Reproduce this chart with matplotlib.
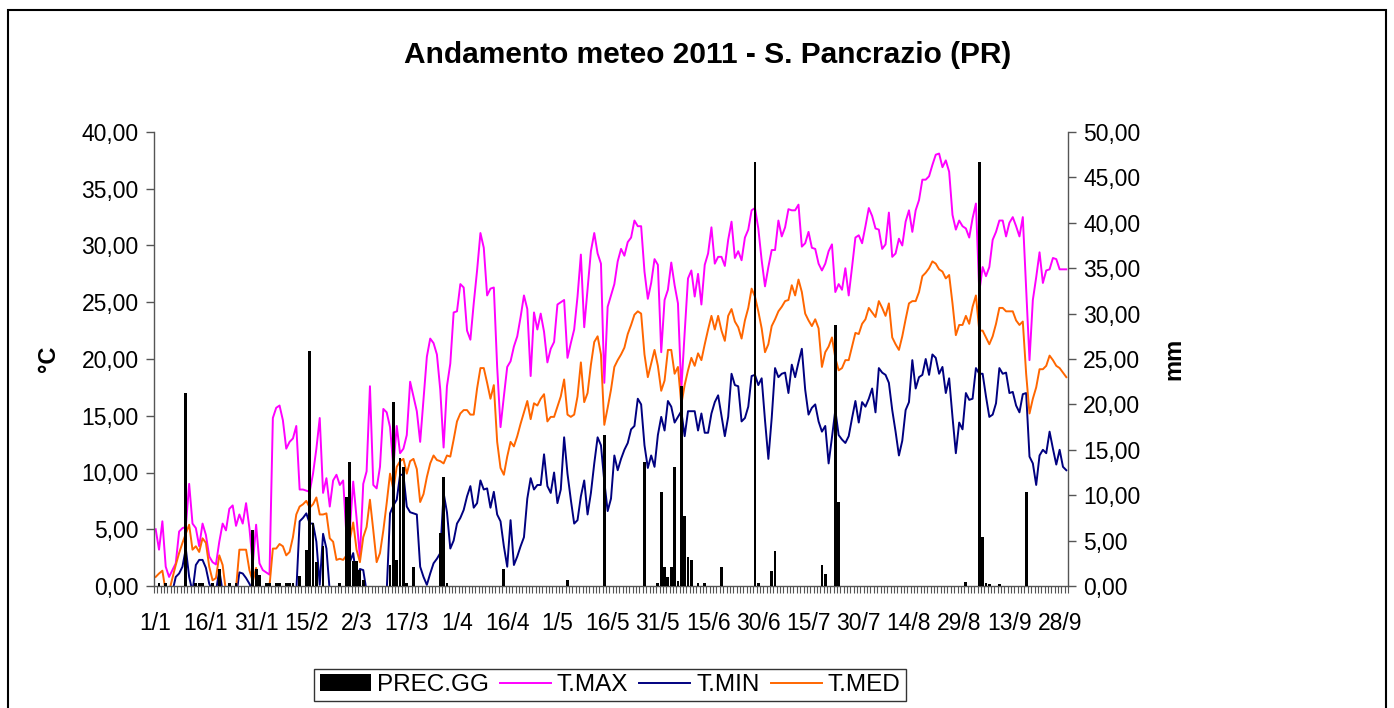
import numpy as np
import matplotlib
matplotlib.use("Agg")
import matplotlib.pyplot as plt
from matplotlib.patches import Rectangle
from matplotlib.ticker import FuncFormatter

plt.rcParams["font.family"] = ["Liberation Sans", "DejaVu Sans"]

# daily values 1/1 .. 30/9 2011 (values below 0 are clipped by the axis)
t_max = [5.0, 3.2, 5.7, 1.7, 0.8, 1.4, 2.0, 4.8, 5.1, 5.2,
         9.0, 5.5, 5.1, 3.5, 5.5, 4.5, 2.6, 2.1, 1.9, 3.9,
         5.5, 4.9, 6.8, 7.1, 5.3, 6.3, 5.5, 7.3, 5.1, 1.9,
         5.4, 2.0, 1.4, 1.2, 1.0, 14.8, 15.7, 15.9, 14.6, 12.1,
         12.7, 13.0, 14.1, 8.5, 8.5, 8.4, 8.3, 9.9, 12.1, 14.8,
         8.2, 9.5, 7.0, 9.3, 9.8, 8.9, 9.3, 4.3, 5.0, 9.2,
         6.0, 2.5, 9.0, 10.1, 17.6, 8.9, 8.6, 10.5, 15.6, 15.3,
         14.0, 10.5, 14.1, 11.7, 12.1, 13.3, 18.0, 16.7, 15.4, 12.7,
         16.4, 20.2, 21.8, 21.4, 20.4, 17.3, 12.2, 17.6, 19.6, 24.1,
         24.2, 26.6, 26.3, 22.5, 21.7, 24.9, 27.8, 31.1, 29.8, 25.6,
         26.2, 26.3, 19.3, 14.0, 16.7, 19.3, 19.8, 21.1, 22.0, 23.7,
         25.6, 24.4, 18.5, 24.1, 22.6, 24.0, 22.4, 19.7, 20.9, 21.5,
         24.8, 25.0, 25.2, 20.1, 21.4, 22.6, 25.5, 29.2, 22.8, 26.2,
         29.5, 31.1, 29.3, 28.4, 17.9, 24.6, 25.6, 26.6, 28.6, 29.7,
         29.1, 30.3, 30.7, 32.2, 31.7, 31.7, 27.7, 25.3, 26.7, 28.8,
         28.3, 20.6, 25.2, 26.1, 28.5, 26.5, 24.9, 17.3, 22.3, 27.1,
         27.8, 25.5, 27.5, 24.8, 28.3, 29.3, 31.6, 28.4, 29.0, 29.0,
         28.2, 30.5, 32.1, 28.9, 29.5, 28.7, 30.7, 31.4, 33.1, 33.3,
         31.5, 28.7, 26.4, 28.1, 29.6, 29.6, 32.2, 30.8, 31.6, 33.2,
         33.1, 33.1, 33.6, 29.9, 30.2, 31.2, 29.8, 29.7, 28.4, 27.8,
         28.4, 29.5, 30.1, 25.9, 26.6, 26.1, 28.0, 25.6, 28.1, 30.7,
         30.9, 30.2, 31.7, 33.3, 32.6, 31.5, 31.4, 29.7, 30.1, 32.9,
         29.0, 29.3, 30.6, 30.0, 32.1, 33.1, 31.2, 33.1, 34.0, 35.8,
         35.8, 36.1, 37.1, 38.0, 38.1, 36.9, 37.5, 36.5, 32.7, 31.4,
         32.2, 31.7, 31.5, 30.7, 32.4, 33.7, 25.9, 28.1, 27.3, 28.1,
         30.5, 31.2, 32.2, 32.2, 30.8, 32.0, 32.5, 31.7, 30.8, 32.5,
         26.2, 19.9, 25.2, 27.2, 29.4, 26.7, 27.8, 27.9, 28.9, 28.8,
         27.9, 27.9, 27.9]

t_med = [0.8, 1.1, 1.35, -0.5, -0.5, 0.7, 1.85, 2.9, 3.8, 4.6,
         5.4, 3.2, 3.5, 3.0, 4.2, 3.8, 1.7, 0.5, 0.7, 2.7,
         1.85, -0.5, -1.0, -0.5, -0.2, 3.2, 3.2, 3.2, 1.4, 0.4,
         1.6, -0.5, -0.5, -0.3, 0.0, 3.3, 3.3, 3.7, 3.5, 2.7,
         3.0, 4.3, 6.3, 7.0, 7.2, 7.5, 6.9, 7.2, 7.8, 6.3,
         6.3, 6.4, 4.2, 3.9, 2.3, 2.4, 2.3, 2.7, 4.1, 5.6,
         3.2, 2.1, 4.3, 5.2, 7.6, 4.9, 2.1, 2.9, 4.9, 7.3,
         9.9, 8.5, 10.5, 11.0, 11.2, 9.9, 11.0, 11.2, 10.3, 7.4,
         8.1, 9.6, 10.8, 11.5, 11.1, 11.0, 10.8, 11.5, 11.4, 12.9,
         14.5, 15.2, 15.5, 15.5, 15.1, 15.1, 17.4, 19.2, 19.2, 17.9,
         16.5, 17.7, 12.7, 10.4, 9.8, 11.4, 12.7, 12.3, 13.2, 14.3,
         15.3, 16.3, 14.7, 16.1, 15.9, 16.5, 16.9, 14.5, 14.9, 14.9,
         15.8, 16.7, 18.2, 15.1, 14.9, 15.1, 16.7, 19.7, 16.2, 17.0,
         19.5, 21.5, 22.0, 20.4, 14.2, 15.7, 17.3, 19.3, 19.9, 20.4,
         21.0, 22.2, 23.0, 23.9, 24.2, 24.0, 20.4, 18.4, 19.6, 20.8,
         19.4, 17.2, 18.1, 20.8, 20.8, 18.7, 19.3, 16.0, 17.7, 19.0,
         20.1, 19.4, 20.5, 19.9, 21.3, 22.6, 23.8, 22.6, 23.8, 22.5,
         21.6, 23.8, 24.4, 23.3, 22.8, 21.8, 23.4, 24.5, 26.2, 25.5,
         24.2, 22.7, 20.6, 21.3, 22.9, 23.5, 24.2, 24.6, 25.1, 25.2,
         26.5, 25.6, 27.0, 25.9, 24.0, 23.4, 22.9, 23.5, 22.7, 19.3,
         20.6, 21.1, 21.9, 20.1, 19.0, 19.2, 19.9, 19.9, 21.1, 22.3,
         22.2, 23.1, 23.5, 24.5, 24.1, 23.7, 25.1, 24.5, 23.8, 24.9,
         21.9, 21.3, 20.8, 22.0, 23.5, 24.9, 25.1, 25.1, 25.9, 27.3,
         27.6, 28.0, 28.6, 28.4, 27.9, 27.7, 27.1, 27.4, 24.9, 22.1,
         23.0, 23.0, 23.8, 23.1, 24.6, 25.6, 22.5, 22.5, 21.9, 21.3,
         22.0, 23.1, 24.5, 24.5, 24.2, 24.2, 24.2, 23.4, 23.0, 23.3,
         18.7, 15.2, 16.5, 17.5, 19.1, 19.1, 19.4, 20.3, 19.9, 19.4,
         19.2, 18.8, 18.4]

t_min = [-2, -2, -2, -2, -2, -0.5, 0.8, 1.1, 1.7, 3.3,
         0.8, -0.5, 1.85, 2.3, 2.3, 1.6, 0.2, -0.5, -0.5, 1.4,
         -0.5, -2, -2, -2, -1, 1.2, 1.1, 0.7, 0.2, -0.5,
         -1, -2, -2, -2, -2, -2, -2, -2, -2, -2,
         -2, -2, -0.5, 5.7, 6.0, 6.4, 5.5, 5.5, 3.9, 0.1,
         4.6, 3.3, -0.5, -2, -2, -2, -2, -0.5, 2.1, 2.9,
         0.5, 1.5, 1.4, -0.5, -2, -2, -2, -2, -2, -0.5,
         6.4, 7.1, 7.6, 9.8, 9.8, 7.0, 6.5, 6.4, 6.3, 1.7,
         0.8, 0.1, 1.1, 2.0, 2.4, 2.9, 8.2, 6.5, 3.3, 4.0,
         5.5, 6.0, 6.7, 7.9, 8.8, 6.9, 7.3, 9.3, 8.5, 8.6,
         6.9, 8.3, 6.3, 5.7, 3.5, 1.7, 5.8, 1.85, 2.6, 3.5,
         4.3, 7.7, 9.5, 8.5, 8.9, 8.9, 11.6, 8.8, 8.2, 10.0,
         7.3, 8.5, 13.1, 9.9, 7.6, 5.5, 5.8, 7.9, 9.3, 6.3,
         8.2, 10.8, 13.1, 12.4, 9.2, 6.6, 7.7, 11.5, 10.2, 11.2,
         12.0, 12.6, 13.8, 14.1, 16.5, 16.0, 12.4, 10.4, 11.5, 10.5,
         13.3, 14.9, 13.7, 16.3, 15.8, 14.4, 14.9, 15.4, 13.2, 15.4,
         15.4, 15.4, 13.7, 15.2, 13.5, 13.5, 15.2, 16.2, 16.8, 15.0,
         13.2, 14.9, 18.7, 17.7, 17.6, 14.5, 14.8, 15.8, 18.5, 18.6,
         17.7, 18.3, 14.6, 11.2, 14.8, 19.2, 18.4, 18.7, 18.8, 17.0,
         19.5, 18.4, 19.7, 20.9, 17.3, 15.1, 15.7, 16.0, 14.5, 13.6,
         14.1, 10.8, 13.1, 15.5, 13.3, 12.9, 12.6, 13.2, 14.8, 16.3,
         14.4, 16.2, 15.8, 16.5, 17.4, 15.3, 19.2, 18.8, 18.6, 17.9,
         15.5, 13.6, 11.5, 12.8, 15.5, 16.2, 19.9, 17.4, 18.4, 18.6,
         20.0, 18.6, 20.4, 20.1, 18.7, 19.3, 17.0, 18.3, 14.9, 11.7,
         14.4, 13.8, 17.0, 16.4, 16.5, 19.2, 18.7, 18.7, 16.7, 14.9,
         15.1, 16.1, 19.2, 18.7, 18.8, 17.0, 17.1, 15.9, 15.3, 16.9,
         17.0, 11.4, 10.8, 8.9, 11.5, 12.0, 11.7, 13.6, 12.1, 10.7,
         12.0, 10.5, 10.2]

# rainy days (day index from 1/1) and daily rain in mm
rain_day = [1, 3, 9, 12, 13, 14, 17, 19, 22, 24, 29, 30, 31, 33, 34, 36, 37,
            39, 40, 41, 43, 45, 46, 47, 48, 50, 55, 57, 58, 59, 60, 61, 62,
            70, 71, 72, 73, 74, 75, 77, 85, 86, 87, 104, 123, 134, 146, 150,
            151, 152, 153, 154, 155, 156, 157, 158, 159, 160, 162, 164, 169,
            179, 180, 184, 185, 199, 200, 203, 204, 242, 246, 247, 248, 249,
            252, 260]
rain_mm = [0.3, 0.3, 21.3, 0.3, 0.3, 0.3, 0.3, 1.9, 0.3, 0.3, 6.2, 1.9, 1.2,
           0.3, 0.3, 0.3, 0.3, 0.3, 0.3, 0.3, 1.1, 4.0, 25.9, 6.9, 2.6, 4.4,
           0.3, 9.8, 13.7, 2.7, 2.7, 1.8, 0.7, 2.3, 20.3, 2.9, 14.1, 13.1,
           0.3, 2.1, 5.8, 12.0, 0.3, 1.9, 0.7, 16.6, 13.7, 0.3, 10.4, 2.1,
           1.0, 2.1, 13.1, 0.5, 22.0, 7.7, 3.2, 2.9, 0.3, 0.3, 2.1, 46.7,
           0.3, 1.7, 3.8, 2.3, 1.3, 28.7, 9.3, 0.4, 46.7, 5.4, 0.3, 0.2,
           0.2, 10.4]

tick_labels = ["1/1", "16/1", "31/1", "15/2", "2/3", "17/3", "1/4", "16/4",
               "1/5", "16/5", "31/5", "15/6", "30/6", "15/7", "30/7", "14/8",
               "29/8", "13/9", "28/9"]

n = len(t_max)
days = np.arange(n)
prec = np.zeros(n)
prec[rain_day] = rain_mm

W, H = 1394, 708
fig = plt.figure(figsize=(W / 100, H / 100), dpi=100)
ax = fig.add_axes([154 / W, 122 / H, 914 / W, 454 / H])
ax2 = ax.twinx()

l1, = ax.plot(days, t_max, color="#FF00FF", lw=1.4, label="T.MAX")
l2, = ax.plot(days, t_min, color="#000080", lw=1.4, label="T.MIN")
l3, = ax.plot(days, t_med, color="#FF6600", lw=1.4, label="T.MED")
bars = ax2.bar(days, prec, width=0.85, color="black", label="PREC.GG")

ax.set_xlim(-0.5, n - 0.5)
ax.set_ylim(0, 40)
ax2.set_ylim(0, 50)

comma = FuncFormatter(lambda v, p: f"{v:.2f}".replace(".", ","))
ax.set_yticks(np.arange(0, 41, 5))
ax2.set_yticks(np.arange(0, 51, 5))
ax.yaxis.set_major_formatter(comma)
ax2.yaxis.set_major_formatter(comma)

ax.set_xticks(np.arange(0, n, 15))
ax.set_xticklabels(tick_labels)
ax.set_xticks(np.arange(-0.5, n, 1), minor=True)
ax.tick_params(axis="x", which="major", length=0, pad=19, labelsize=16.5)
ax.tick_params(axis="x", which="minor", length=5, width=0.8, color="#555555")
ax.tick_params(axis="y", length=6, width=1, color="#555555", labelsize=16.5, pad=5)
ax2.tick_params(axis="y", length=6, width=1, color="#555555", labelsize=16.5, pad=5)

for s in ["top", "right"]:
    ax.spines[s].set_visible(False)
for s in ["top", "left", "bottom"]:
    ax2.spines[s].set_visible(False)
for sp in [ax.spines["left"], ax.spines["bottom"], ax2.spines["right"]]:
    sp.set_color("#555555")
    sp.set_linewidth(1)

ax.set_ylabel("°C", fontsize=17, fontweight="bold")
ax.yaxis.set_label_coords((60 - 154) / 914, 0.5)
ax2.set_ylabel("mm", fontsize=17, fontweight="bold", rotation=90)
ax2.yaxis.set_label_coords((1162 - 154) / 914, 0.5)

fig.text(708 / W, 1 - 55 / H, "Andamento meteo 2011 - S. Pancrazio (PR)",
         ha="center", va="center", fontsize=21.5, fontweight="bold")

fig.legend([bars, l1, l2, l3], ["PREC.GG", "T.MAX", "T.MIN", "T.MED"],
           loc="center", bbox_to_anchor=(610 / W, 1 - 685 / H), ncol=4,
           fontsize=17.5, frameon=True, fancybox=False, edgecolor="black",
           handlelength=2.1, handletextpad=0.25, columnspacing=0.45,
           borderpad=0.22, borderaxespad=0)

fig.patches.append(Rectangle((8 / W, -0.05), (1386 - 8) / W, (H - 10) / H + 0.05,
                             transform=fig.transFigure, fill=False,
                             edgecolor="black", lw=1.5))

fig.savefig("out.png", dpi=100)
